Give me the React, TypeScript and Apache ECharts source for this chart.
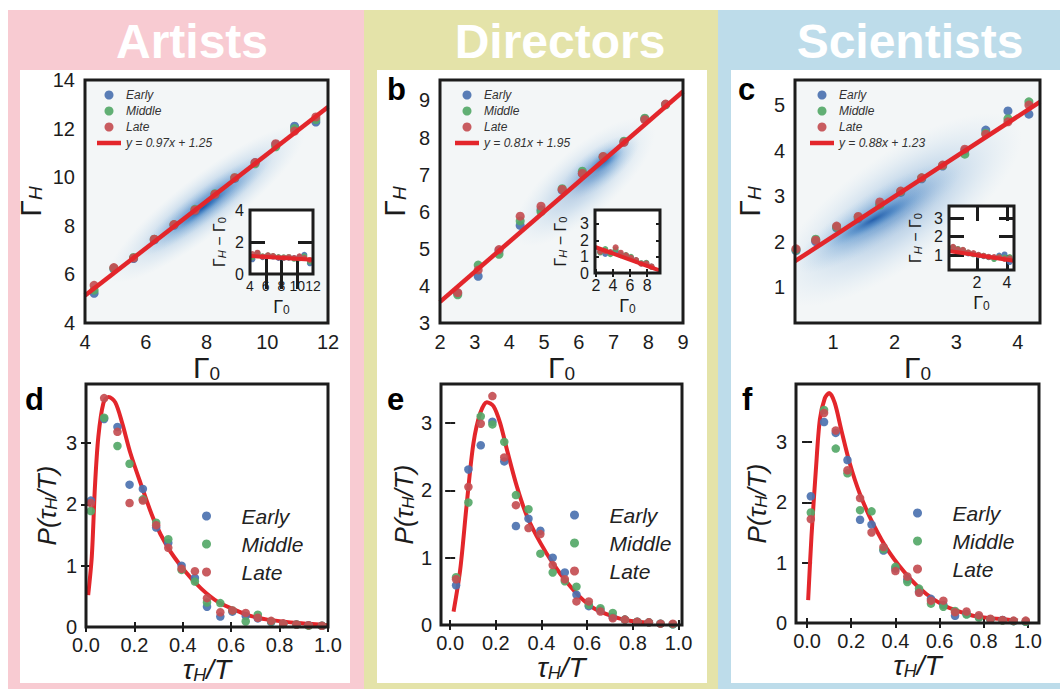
import { useEffect, useRef } from "react";
import * as echarts from "echarts";

const FONT = '"Liberation Sans", Arial, Helvetica, sans-serif';
const INK = "#1c1c1c";
const RED = "#e3262b";
const C_EARLY = "#4c72b0";
const C_MIDDLE = "#55a868";
const C_LATE = "#c44e52";

const groups = ["Early", "Middle", "Late"];
const titles = ["Artists", "Directors", "Scientists"];

// ---- top row: Γ_H versus Γ_0, binned by career stage
const artistsG0 = [4.3, 4.95, 5.6, 6.28, 6.93, 7.62, 8.28, 8.93, 9.6, 10.28, 10.9, 11.6];
const artistsEarly = [5.22, 6.22, 6.65, 7.42, 8.02, 8.62, 9.28, 9.95, 10.6, 11.35, 12.1, 12.27];
const artistsMiddle = [5.35, 6.25, 6.7, 7.45, 8.05, 8.68, 9.32, 9.98, 10.55, 11.25, 12.0, 12.37];
const artistsLate = [5.55, 6.28, 6.68, 7.45, 8.05, 8.65, 9.3, 9.98, 10.6, 11.38, 11.9, 12.48];
const artistsFit = { slope: 0.97, intercept: 1.25, label: "y = 0.97x + 1.25" };
// density ridges: [x1, y1, x2, y2, thickness, weight]
const artistsDensity = [
  [4.8, 5.8, 11.2, 12.0, 2.4, 0.45],
  [5.8, 6.8, 10.2, 11.0, 1.3, 0.7],
  [6.6, 7.5, 9.2, 10.0, 0.6, 0.9],
];

const directorsG0 = [2.51, 3.1, 3.7, 4.31, 4.91, 5.52, 6.1, 6.7, 7.3, 7.9, 8.5];
const directorsEarly = [3.8, 4.26, 4.95, 5.63, 6.05, 6.58, 7.03, 7.47, 7.88, 8.5, 8.89];
const directorsMiddle = [3.76, 4.56, 4.85, 5.75, 6.0, 6.62, 7.09, 7.48, 7.9, 8.52, 8.88];
const directorsLate = [3.82, 4.43, 4.98, 5.88, 6.15, 6.6, 7.03, 7.49, 7.87, 8.48, 8.9];
const directorsFit = { slope: 0.81, intercept: 1.95, label: "y = 0.81x + 1.95" };
const directorsDensity = [
  [4.2, 5.2, 8.1, 8.4, 1.8, 0.35],
  [5.5, 6.4, 7.7, 8.0, 1.0, 0.6],
  [6.2, 7.0, 7.3, 7.75, 0.5, 0.85],
];

const scientistsG0 = [0.4, 0.72, 1.06, 1.41, 1.76, 2.1, 2.44, 2.78, 3.14, 3.48, 3.84, 4.18];
const scientistsEarly = [1.8, 2.0, 2.3, 2.5, 2.82, 3.08, 3.38, 3.66, 4.0, 4.45, 4.87, 4.8];
const scientistsMiddle = [1.82, 2.05, 2.32, 2.54, 2.8, 3.1, 3.4, 3.67, 3.92, 4.38, 4.7, 5.07];
const scientistsLate = [1.84, 2.03, 2.34, 2.55, 2.87, 3.11, 3.4, 3.68, 4.03, 4.36, 4.63, 5.0];
const scientistsFit = { slope: 0.88, intercept: 1.23, label: "y = 0.88x + 1.23" };
const scientistsDensity = [
  [0.1, 0.8, 4.0, 4.6, 2.4, 0.4],
  [0.4, 1.4, 3.1, 3.7, 1.1, 0.6],
  [0.8, 1.85, 2.5, 3.1, 0.5, 0.85],
];

// ---- bottom row: P(τ_H / T)
const artistsTau = [0.02, 0.075, 0.13, 0.18, 0.235, 0.29, 0.34, 0.395, 0.45, 0.5, 0.555, 0.605, 0.66, 0.71, 0.765, 0.815, 0.87, 0.92, 0.975];
const artistsPEarly = [2.06, 3.39, 3.26, 2.32, 2.25, 1.62, 1.37, 1.0, 0.8, 0.33, 0.17, 0.25, 0.18, 0.14, 0.08, 0.05, 0.04, 0.03, 0.02];
const artistsPMiddle = [1.89, 3.41, 2.95, 2.66, 2.08, 1.7, 1.43, 0.93, 0.74, 0.4, 0.39, 0.27, 0.09, 0.2, 0.09, 0.05, 0.04, 0.02, 0.02];
const artistsPLate = [2.02, 3.73, 3.18, 2.02, 2.06, 1.66, 1.29, 0.95, 0.91, 0.47, 0.24, 0.27, 0.23, 0.15, 0.1, 0.06, 0.04, 0.03, 0.02];
const artistsCurveX = [0.009, 0.024, 0.037, 0.051, 0.072, 0.093, 0.121, 0.149, 0.183, 0.225, 0.28, 0.336, 0.405, 0.475, 0.545, 0.615, 0.68, 0.75, 0.89, 1.0];
const artistsCurveY = [0.52, 1.15, 2.29, 3.1, 3.65, 3.75, 3.66, 3.33, 2.84, 2.35, 1.75, 1.31, 0.93, 0.63, 0.41, 0.28, 0.18, 0.12, 0.06, 0.03];

const directorsTau = [0.026, 0.08, 0.134, 0.185, 0.237, 0.288, 0.343, 0.395, 0.449, 0.502, 0.553, 0.607, 0.658, 0.712, 0.765, 0.819, 0.87, 0.921, 0.975];
const directorsPEarly = [0.59, 2.31, 2.67, 3.02, 2.43, 1.47, 1.58, 1.4, 1.0, 0.78, 0.45, 0.28, 0.22, 0.12, 0.08, 0.05, 0.04, 0.02, 0.01];
const directorsPMiddle = [0.71, 1.82, 3.1, 2.98, 2.72, 1.93, 1.72, 1.06, 0.78, 0.65, 0.57, 0.3, 0.25, 0.18, 0.08, 0.05, 0.04, 0.02, 0.01];
const directorsPLate = [0.68, 2.05, 2.99, 3.4, 2.49, 1.78, 1.44, 1.35, 0.89, 0.68, 0.35, 0.35, 0.2, 0.1, 0.08, 0.05, 0.04, 0.02, 0.02];
const directorsCurveX = [0.015, 0.044, 0.073, 0.102, 0.132, 0.161, 0.19, 0.219, 0.249, 0.292, 0.336, 0.395, 0.453, 0.512, 0.57, 0.629, 0.702, 0.775, 0.877];
const directorsCurveY = [0.2, 0.82, 1.81, 2.7, 3.15, 3.31, 3.25, 3.0, 2.6, 2.06, 1.62, 1.22, 0.9, 0.63, 0.41, 0.25, 0.14, 0.07, 0.03];

const scientistsTau = [0.017, 0.077, 0.13, 0.183, 0.24, 0.292, 0.346, 0.4, 0.454, 0.507, 0.561, 0.617, 0.67, 0.722, 0.778, 0.83, 0.885, 0.935, 0.99];
const scientistsPEarly = [2.1, 3.33, 3.15, 2.7, 1.71, 1.63, 1.2, 0.9, 0.72, 0.52, 0.4, 0.3, 0.12, 0.15, 0.1, 0.06, 0.05, 0.03, 0.02];
const scientistsPMiddle = [1.83, 3.53, 2.89, 2.48, 1.87, 1.85, 1.22, 0.93, 0.68, 0.57, 0.32, 0.27, 0.2, 0.14, 0.09, 0.06, 0.04, 0.03, 0.02];
const scientistsPLate = [1.72, 3.48, 3.19, 2.53, 2.07, 1.5, 1.26, 0.86, 0.77, 0.5, 0.37, 0.37, 0.18, 0.19, 0.13, 0.07, 0.05, 0.04, 0.04];
const scientistsCurveX = [0.005, 0.02, 0.04, 0.058, 0.08, 0.1, 0.125, 0.155, 0.193, 0.238, 0.298, 0.374, 0.465, 0.54, 0.615, 0.69, 0.765, 0.92, 0.955];
const scientistsCurveY = [0.38, 1.43, 2.54, 3.37, 3.72, 3.81, 3.65, 3.2, 2.65, 2.15, 1.65, 1.16, 0.74, 0.48, 0.3, 0.19, 0.11, 0.05, 0.04];

// ---- layout
const boxes = [
  { left: 85, top: 80, width: 243, height: 243 },
  { left: 440, top: 80, width: 243, height: 243 },
  { left: 795, top: 80, width: 245, height: 243 },
  { left: 86, top: 384, width: 242, height: 243 },
  { left: 441, top: 384, width: 241, height: 241 },
  { left: 796, top: 384, width: 243, height: 239 },
  { left: 250, top: 210, width: 63, height: 64 },
  { left: 595, top: 210, width: 65, height: 63 },
  { left: 949, top: 206, width: 65, height: 64 },
];

const xRanges = [[4, 12], [2, 9], [0.384, 4.36], [0, 1], [-0.04, 1.015], [-0.05, 1.05], [4, 12], [1.9, 9.5], [0.13, 4.47]];
const yRanges = [[4, 14], [3, 9.55], [0.21, 5.55], [0, 3.96], [0, 3.58], [0, 3.96], [0, 4], [0, 3.85], [0.19, 3.65]];

const tau = [0, 0.2, 0.4, 0.6, 0.8, 1.0];

const rich = (big: number, small: number) => ({
  g: { fontSize: big, fontFamily: FONT, color: INK, lineHeight: big },
  i: { fontSize: big, fontFamily: FONT, color: INK, fontStyle: "italic", lineHeight: big },
  s: { fontSize: small, fontFamily: FONT, color: INK, fontStyle: "italic", verticalAlign: "bottom", lineHeight: small * 0.5 },
  n: { fontSize: small, fontFamily: FONT, color: INK, verticalAlign: "bottom", lineHeight: small * 0.5 },
});

type AxisCfg = {
  i: number;
  dim: "x" | "y";
  position: string;
  labels?: number[];
  ticks?: number[];
  tickLen?: number;
  tickWidth?: number;
  fontSize?: number;
  margin?: number;
  decimals?: number;
  name?: string;
  nameGap?: number;
  nameSize?: [number, number];
};

function axis(c: AxisCfg) {
  const range = c.dim === "x" ? xRanges[c.i] : yRanges[c.i];
  const inset = c.i >= 6;
  return {
    type: "value",
    gridIndex: c.i,
    position: c.position,
    min: range[0],
    max: range[1],
    z: inset ? 7 : 2,
    axisLine: { show: false },
    splitLine: { show: false },
    axisTick: c.ticks
      ? { show: true, inside: true, length: c.tickLen, customValues: c.ticks, lineStyle: { color: INK, width: c.tickWidth } }
      : { show: false },
    axisLabel: c.labels
      ? {
          show: true,
          customValues: c.labels,
          showMinLabel: true,
          showMaxLabel: true,
          hideOverlap: false,
          margin: c.margin,
          fontSize: c.fontSize,
          fontFamily: FONT,
          color: INK,
          formatter: (v: number) => (c.decimals ? v.toFixed(c.decimals) : String(v)),
        }
      : { show: false },
    name: c.name,
    nameLocation: "middle",
    nameGap: c.nameGap,
    nameRotate: c.dim === "y" ? 90 : 0,
    nameTextStyle: c.nameSize ? { rich: rich(c.nameSize[0], c.nameSize[1]) } : undefined,
  };
}

const G0 = "{g|Γ}{n|0}";
const GH = "{g|Γ}{s|H}";
const DIFF = "{g|Γ}{s|H}{g| − Γ}{n|0}";
const PTAU = "{i|P(τ}{s|H}{i|/T)}";
const TAU = "{i|τ}{s|H}{i|/T}";

const xAxes = [
  axis({ i: 0, dim: "x", position: "bottom", labels: [4, 6, 8, 10, 12], fontSize: 20, margin: 9, name: G0, nameGap: 27, nameSize: [30, 19] }),
  axis({ i: 1, dim: "x", position: "bottom", labels: [2, 3, 4, 5, 6, 7, 8, 9], fontSize: 20, margin: 9, name: G0, nameGap: 27, nameSize: [30, 19] }),
  axis({ i: 2, dim: "x", position: "bottom", labels: [1, 2, 3, 4], fontSize: 20, margin: 9, name: G0, nameGap: 27, nameSize: [30, 19] }),
  axis({ i: 3, dim: "x", position: "bottom", labels: tau, ticks: tau, tickLen: 5, tickWidth: 2, fontSize: 20, margin: 8, decimals: 1, name: TAU, nameGap: 25, nameSize: [28, 18] }),
  axis({ i: 4, dim: "x", position: "bottom", labels: tau, ticks: tau, tickLen: 5, tickWidth: 2, fontSize: 20, margin: 8, decimals: 1, name: TAU, nameGap: 25, nameSize: [28, 18] }),
  axis({ i: 5, dim: "x", position: "bottom", labels: tau, ticks: tau, tickLen: 5, tickWidth: 2, fontSize: 20, margin: 8, decimals: 1, name: TAU, nameGap: 25, nameSize: [28, 18] }),
  axis({ i: 6, dim: "x", position: "bottom", labels: [4, 6, 8, 10, 12], ticks: [6, 8, 10], tickLen: 15, tickWidth: 3, fontSize: 14, margin: 5, name: G0, nameGap: 24, nameSize: [18, 12] }),
  axis({ i: 7, dim: "x", position: "bottom", labels: [2, 4, 6, 8], ticks: [2, 4, 6, 8], tickLen: 4, tickWidth: 2, fontSize: 16, margin: 4, name: G0, nameGap: 24, nameSize: [18, 12] }),
  axis({ i: 8, dim: "x", position: "bottom", labels: [2, 4], ticks: [2, 4], tickLen: 15, tickWidth: 3, fontSize: 16, margin: 4, name: G0, nameGap: 24, nameSize: [18, 12] }),
  axis({ i: 3, dim: "x", position: "top", ticks: tau, tickLen: 5, tickWidth: 2 }),
  axis({ i: 4, dim: "x", position: "top", ticks: tau, tickLen: 5, tickWidth: 2 }),
  axis({ i: 5, dim: "x", position: "top", ticks: tau, tickLen: 5, tickWidth: 2 }),
  axis({ i: 6, dim: "x", position: "top", ticks: [6, 8, 10], tickLen: 15, tickWidth: 3 }),
  axis({ i: 7, dim: "x", position: "top", ticks: [2, 4, 6, 8], tickLen: 4, tickWidth: 2 }),
  axis({ i: 8, dim: "x", position: "top", ticks: [2, 4], tickLen: 15, tickWidth: 3 }),
];

const yAxes = [
  axis({ i: 0, dim: "y", position: "left", labels: [4, 6, 8, 10, 12, 14], fontSize: 20, margin: 10, name: GH, nameGap: 40, nameSize: [30, 19] }),
  axis({ i: 1, dim: "y", position: "left", labels: [3, 4, 5, 6, 7, 8, 9], fontSize: 20, margin: 10, name: GH, nameGap: 31, nameSize: [30, 19] }),
  axis({ i: 2, dim: "y", position: "left", labels: [1, 2, 3, 4, 5], fontSize: 20, margin: 10, name: GH, nameGap: 31, nameSize: [30, 19] }),
  axis({ i: 3, dim: "y", position: "left", labels: [0, 1, 2, 3], ticks: [1, 2, 3], tickLen: 5, tickWidth: 2, fontSize: 20, margin: 9, name: PTAU, nameGap: 26, nameSize: [26, 17] }),
  axis({ i: 4, dim: "y", position: "left", labels: [0, 1, 2, 3], ticks: [1, 2, 3], tickLen: 5, tickWidth: 2, fontSize: 20, margin: 9, name: PTAU, nameGap: 24, nameSize: [26, 17] }),
  axis({ i: 5, dim: "y", position: "left", labels: [0, 1, 2, 3], ticks: [1, 2, 3], tickLen: 5, tickWidth: 2, fontSize: 20, margin: 9, name: PTAU, nameGap: 26, nameSize: [26, 17] }),
  axis({ i: 6, dim: "y", position: "left", labels: [0, 2, 4], ticks: [2], tickLen: 15, tickWidth: 3, fontSize: 16, margin: 6, name: DIFF, nameGap: 23, nameSize: [16, 11] }),
  axis({ i: 7, dim: "y", position: "left", labels: [0, 1, 2, 3], ticks: [1, 2, 3], tickLen: 4, tickWidth: 2, fontSize: 16, margin: 6, name: DIFF, nameGap: 27, nameSize: [16, 11] }),
  axis({ i: 8, dim: "y", position: "left", labels: [1, 2, 3], ticks: [1, 2, 3], tickLen: 15, tickWidth: 3, fontSize: 16, margin: 6, name: DIFF, nameGap: 26, nameSize: [16, 11] }),
  axis({ i: 3, dim: "y", position: "right", ticks: [1, 2, 3], tickLen: 5, tickWidth: 2 }),
  axis({ i: 4, dim: "y", position: "right", ticks: [1, 2, 3], tickLen: 5, tickWidth: 2 }),
  axis({ i: 5, dim: "y", position: "right", ticks: [1, 2, 3], tickLen: 5, tickWidth: 2 }),
  axis({ i: 6, dim: "y", position: "right", ticks: [2], tickLen: 15, tickWidth: 3 }),
  axis({ i: 7, dim: "y", position: "right", ticks: [1, 2, 3], tickLen: 4, tickWidth: 2 }),
  axis({ i: 8, dim: "y", position: "right", ticks: [2, 3], tickLen: 15, tickWidth: 3 }),
];

const blobFill = {
  type: "radial",
  x: 0.5,
  y: 0.5,
  r: 0.5,
  colorStops: [
    { offset: 0, color: "rgba(28,88,168,1)" },
    { offset: 0.45, color: "rgba(70,135,200,0.6)" },
    { offset: 1, color: "rgba(160,200,232,0)" },
  ],
};

const renderBlob = (_params: any, api: any) => {
  const p1 = api.coord([api.value(0), api.value(1)]);
  const p2 = api.coord([api.value(2), api.value(3)]);
  const thick = Math.abs(api.size([0, api.value(4)])[1]);
  const dx = p2[0] - p1[0];
  const dy = p2[1] - p1[1];
  const len = Math.sqrt(dx * dx + dy * dy);
  return {
    type: "circle",
    x: (p1[0] + p2[0]) / 2,
    y: (p1[1] + p2[1]) / 2,
    rotation: -Math.atan2(dy, dx),
    scaleX: len / 100,
    scaleY: thick / 100,
    shape: { cx: 0, cy: 0, r: 50 },
    style: { fill: blobFill, opacity: api.value(5) },
  };
};

const pairs = (xs: number[], ys: number[]) => xs.map((x, k) => [x, ys[k]]);
const resid = (xs: number[], ys: number[]) => xs.map((x, k) => [x, +(ys[k] - x).toFixed(3)]);
const groupColors = [C_EARLY, C_MIDDLE, C_LATE];

function scatter(name: string, color: string, data: number[][], gi: number, size: number, z: number) {
  return {
    type: "scatter",
    name,
    data,
    xAxisIndex: gi,
    yAxisIndex: gi,
    symbolSize: size,
    itemStyle: { color, opacity: 0.92 },
    z,
    silent: true,
  };
}

function topPanel(gi: number, ii: number, xs: number[], vals: number[][], fit: { slope: number; intercept: number; label: string }, density: number[][]) {
  const [x0, x1] = xRanges[gi];
  const [ix0, ix1] = xRanges[ii];
  const d = fit.slope - 1;
  return [
    {
      type: "custom",
      xAxisIndex: gi,
      yAxisIndex: gi,
      data: density,
      renderItem: renderBlob,
      encode: { x: [0, 2], y: [1, 3] },
      clip: true,
      silent: true,
      z: 1,
    },
    ...vals.map((v, k) => scatter(groups[k], groupColors[k], pairs(xs, v), gi, 9, 3)),
    {
      type: "line",
      name: fit.label,
      xAxisIndex: gi,
      yAxisIndex: gi,
      data: [
        [x0, fit.slope * x0 + fit.intercept],
        [x1, fit.slope * x1 + fit.intercept],
      ],
      symbol: "none",
      lineStyle: { color: RED, width: 4.5 },
      itemStyle: { color: RED },
      z: 4,
      silent: true,
    },
    ...vals.map((v, k) => scatter(groups[k], groupColors[k], resid(xs, v), ii, 6, 8)),
    {
      type: "line",
      name: fit.label + " (residual)",
      xAxisIndex: ii,
      yAxisIndex: ii,
      data: [
        [ix0, d * ix0 + fit.intercept],
        [ix1, d * ix1 + fit.intercept],
      ],
      symbol: "none",
      lineStyle: { color: RED, width: 4 },
      z: 9,
      silent: true,
    },
  ];
}

function bottomPanel(gi: number, xs: number[], vals: number[][], cx: number[], cy: number[]) {
  return [
    {
      type: "line",
      name: "fit",
      xAxisIndex: gi,
      yAxisIndex: gi,
      data: pairs(cx, cy),
      smooth: 0.3,
      symbol: "none",
      lineStyle: { color: RED, width: 4 },
      z: 3,
      silent: true,
    },
    ...vals.map((v, k) => scatter(groups[k], groupColors[k], pairs(xs, v), gi, 8.5, 4)),
  ];
}

const topLegend = (left: number, fitLabel: string) => ({
  left,
  top: 88,
  orient: "vertical",
  padding: 0,
  itemWidth: 24,
  itemHeight: 9,
  itemGap: 2,
  selectedMode: false,
  textStyle: { fontFamily: FONT, fontSize: 12, fontStyle: "italic", color: "#333", lineHeight: 14 },
  data: [
    ...groups.map((name) => ({ name, icon: "circle" })),
    { name: fitLabel, icon: "path://M0,0H24V4.5H0Z" },
  ],
});

const bottomLegend = (left: number, top: number) => ({
  left,
  top,
  orient: "vertical",
  padding: 0,
  itemWidth: 60,
  itemHeight: 9,
  itemGap: 4,
  selectedMode: false,
  textStyle: { fontFamily: FONT, fontSize: 21, fontStyle: "italic", color: "#222", lineHeight: 24 },
  data: groups.map((name) => ({ name, icon: "circle" })),
});

const bands = [
  { x: 8, width: 356, color: "#f8cbd2" },
  { x: 364, width: 354, color: "#e4e3a9" },
  { x: 718, width: 342, color: "#bddcea" },
];
const sheets = [
  { x: 20, width: 330 },
  { x: 377, width: 330 },
  { x: 731, width: 329 },
];
const titleCenters = [192, 560, 910];
const letters = [
  { t: "b", x: 387, y: 89 },
  { t: "c", x: 738, y: 89 },
  { t: "d", x: 25, y: 399 },
  { t: "e", x: 387, y: 399 },
  { t: "f", x: 742, y: 399 },
];

function buildOption() {
  const graphics: any[] = [];
  bands.forEach((b) =>
    graphics.push({ type: "rect", z: -10, shape: { x: b.x, y: 10, width: b.width, height: 679 }, style: { fill: b.color } })
  );
  sheets.forEach((s) =>
    graphics.push({ type: "rect", z: -9, shape: { x: s.x, y: 70, width: s.width, height: 613 }, style: { fill: "#ffffff" } })
  );
  titles.forEach((t, k) =>
    graphics.push({
      type: "text",
      z: 50,
      x: titleCenters[k],
      y: 41,
      style: { text: t, fill: "#ffffff", fontFamily: FONT, fontSize: 48, fontWeight: "bold", align: "center", verticalAlign: "middle" },
    })
  );
  letters.forEach((l) =>
    graphics.push({
      type: "text",
      z: 50,
      x: l.x,
      y: l.y,
      style: { text: l.t, fill: "#000", fontFamily: FONT, fontSize: 31, fontWeight: "bold", align: "left", verticalAlign: "middle" },
    })
  );
  boxes.forEach((b) =>
    graphics.push({
      type: "rect",
      z: 60,
      shape: { x: b.left, y: b.top, width: b.width, height: b.height },
      style: { fill: "none", stroke: INK, lineWidth: 3 },
    })
  );

  return {
    animation: false,
    backgroundColor: "#ffffff",
    textStyle: { fontFamily: FONT },
    grid: boxes.map((b, k) => ({
      ...b,
      show: true,
      borderWidth: 0,
      backgroundColor: k < 3 ? "#f3f6f7" : "#ffffff",
      z: k >= 6 ? 5 : 0,
    })),
    xAxis: xAxes,
    yAxis: yAxes,
    legend: [
      topLegend(97, artistsFit.label),
      topLegend(455, directorsFit.label),
      topLegend(810, scientistsFit.label),
      bottomLegend(202, 504),
      bottomLegend(570, 503),
      bottomLegend(913, 501),
    ],
    graphic: { elements: graphics },
    series: [
      ...topPanel(0, 6, artistsG0, [artistsEarly, artistsMiddle, artistsLate], artistsFit, artistsDensity),
      ...topPanel(1, 7, directorsG0, [directorsEarly, directorsMiddle, directorsLate], directorsFit, directorsDensity),
      ...topPanel(2, 8, scientistsG0, [scientistsEarly, scientistsMiddle, scientistsLate], scientistsFit, scientistsDensity),
      ...bottomPanel(3, artistsTau, [artistsPEarly, artistsPMiddle, artistsPLate], artistsCurveX, artistsCurveY),
      ...bottomPanel(4, directorsTau, [directorsPEarly, directorsPMiddle, directorsPLate], directorsCurveX, directorsCurveY),
      ...bottomPanel(5, scientistsTau, [scientistsPEarly, scientistsPMiddle, scientistsPLate], scientistsCurveX, scientistsCurveY),
    ],
  };
}

export default function App() {
  const chartRef = useRef<HTMLDivElement | null>(null);

  useEffect(() => {
    if (!chartRef.current) return;
    const chart = echarts.init(chartRef.current, undefined, { renderer: "svg" });
    chart.setOption(buildOption() as any);
    return () => chart.dispose();
  }, []);

  return (
    <div
      ref={chartRef}
      style={{ position: "absolute", left: 0, top: 0, width: 1060, height: 689, background: "#fff" }}
    />
  );
}
